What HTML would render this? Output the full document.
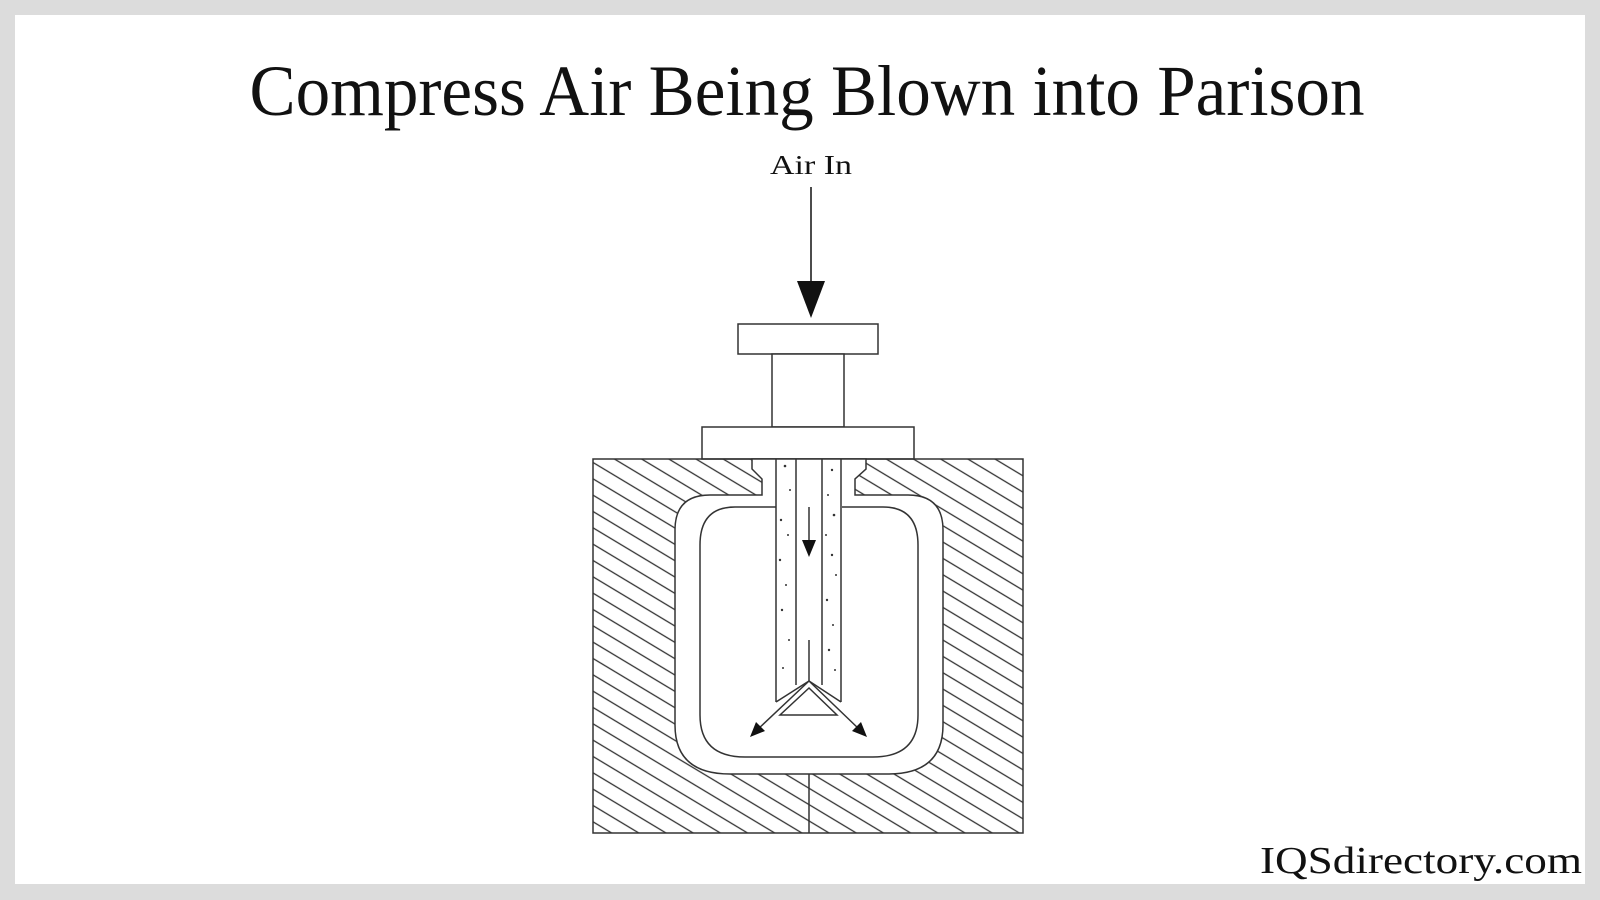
<!DOCTYPE html>
<html><head><meta charset="utf-8"><style>
html,body{margin:0;padding:0;background:#dcdcdc}
svg{display:block}
</style></head><body>
<svg width="1600" height="900" viewBox="0 0 1600 900" xmlns="http://www.w3.org/2000/svg">
<defs>
<pattern id="h" width="14" height="14" patternUnits="userSpaceOnUse" patternTransform="rotate(31)">
<line x1="0" y1="7" x2="14" y2="7" stroke="#333" stroke-width="1.3"/>
</pattern>
</defs>
<rect x="0" y="0" width="1600" height="900" fill="#dcdcdc"/>
<rect x="15" y="15" width="1570" height="869" fill="#fff"/>
<text x="807" y="115" text-anchor="middle" font-family="'Liberation Serif',serif" font-size="72" textLength="1115" lengthAdjust="spacingAndGlyphs" fill="#111">Compress Air Being Blown into Parison</text>
<text x="811" y="174" text-anchor="middle" font-family="'Liberation Serif',serif" font-size="27" textLength="82" lengthAdjust="spacingAndGlyphs" fill="#111">Air In</text>
<line x1="811" y1="187" x2="811" y2="285" stroke="#111" stroke-width="1.5"/>
<polygon points="797,281 825,281 811,318" fill="#111"/>
<g stroke="#333" stroke-width="1.5" fill="#fff">
<rect x="738" y="324" width="140" height="30"/>
<rect x="772" y="354" width="72" height="73"/>
<rect x="702" y="427" width="212" height="32"/>
<rect x="593" y="459" width="430" height="374" fill="url(#h)"/>
<path d="M752,459 L752,469 L762,479 L762,495 L710,495 Q675,495 675,530 L675,725 Q675,774 730,774 L888,774 Q943,774 943,725 L943,530 Q943,495 908,495 L855,495 L855,479 L866,469 L866,459 Z"/>
<path d="M776,507 L735,507 Q700,507 700,545 L700,715 Q700,757 745,757 L873,757 Q918,757 918,715 L918,545 Q918,507 883,507 L842,507" fill="none"/>
<line x1="809" y1="774" x2="809" y2="833"/>
<line x1="776" y1="459" x2="776" y2="702"/>
<line x1="796" y1="459" x2="796" y2="685"/>
<line x1="822" y1="459" x2="822" y2="685"/>
<line x1="841" y1="459" x2="841" y2="702"/>
<line x1="776" y1="702" x2="809" y2="681"/>
<line x1="841" y1="702" x2="809" y2="681"/>
<line x1="809" y1="681" x2="757" y2="730"/>
<line x1="809" y1="681" x2="860" y2="730"/>
<polygon points="809,688 780,715 837,715"/>
<line x1="809" y1="640" x2="809" y2="681"/>
<line x1="809" y1="507" x2="809" y2="545"/>
</g>
<polygon points="802,540 816,540 809,557" fill="#111"/>
<polygon points="750,737 756,722 765,731" fill="#111"/>
<polygon points="867,737 852,731 861,722" fill="#111"/>
<g fill="#333">
<circle cx="785" cy="466" r="1.3"/><circle cx="790" cy="490" r="1"/><circle cx="781" cy="520" r="1.2"/><circle cx="788" cy="535" r="1"/><circle cx="780" cy="560" r="1.2"/><circle cx="786" cy="585" r="1"/><circle cx="782" cy="610" r="1.2"/><circle cx="789" cy="640" r="1"/><circle cx="783" cy="668" r="1"/>
<circle cx="832" cy="470" r="1.2"/><circle cx="828" cy="495" r="1"/><circle cx="834" cy="515" r="1.3"/><circle cx="826" cy="535" r="1"/><circle cx="832" cy="555" r="1.2"/><circle cx="836" cy="575" r="1"/><circle cx="827" cy="600" r="1.2"/><circle cx="833" cy="625" r="1"/><circle cx="829" cy="650" r="1.2"/><circle cx="835" cy="670" r="1"/>
</g>
<text x="1582" y="873" text-anchor="end" font-family="'Liberation Serif',serif" font-size="38" textLength="322" lengthAdjust="spacingAndGlyphs" fill="#111">IQSdirectory.com</text>
</svg>
</body></html>
